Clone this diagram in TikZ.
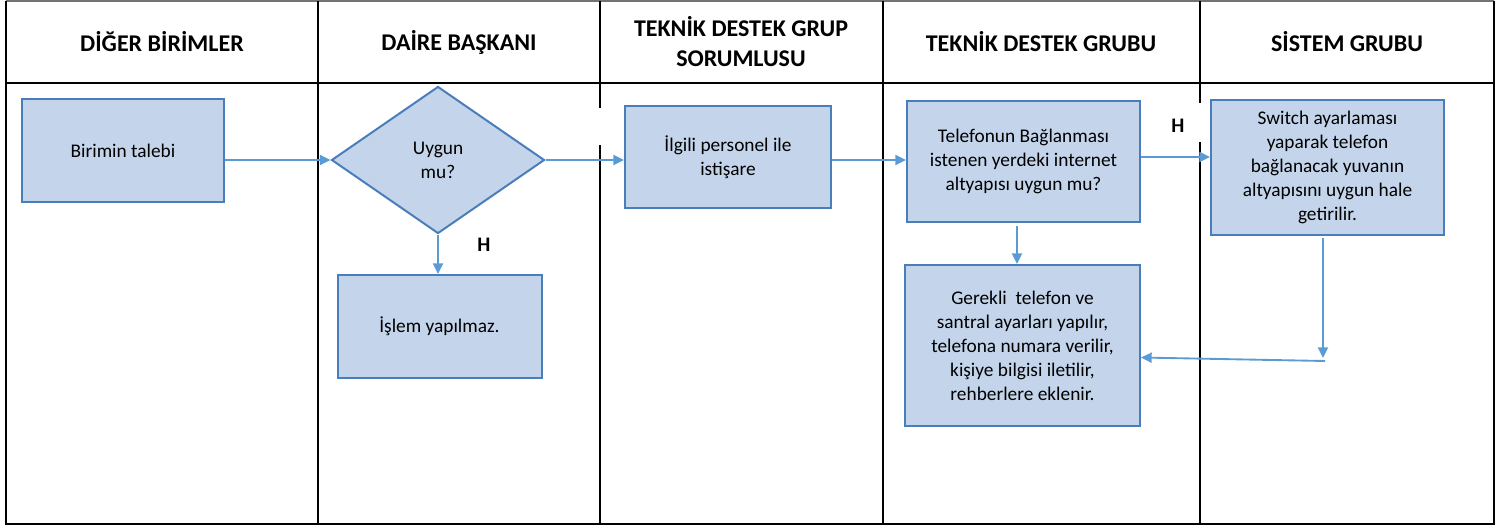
\documentclass[tikz,border=0pt]{standalone}
\usepackage{fontspec}
\setmainfont{Carlito}
\usetikzlibrary{arrows.meta,shapes.geometric}
\definecolor{boxfill}{HTML}{C4D5EB}
\definecolor{boxline}{HTML}{4A7EBB}
\definecolor{flow}{HTML}{5B9BD5}
\tikzset{
  lane/.style={draw=black, line width=1.5pt},
  head/.style={font=\fontsize{18}{22.5}\selectfont\bfseries, align=center},
  proc/.style={draw=boxline, fill=boxfill, line width=1.5pt, align=center, inner sep=0pt,
    font=\fontsize{14.5}{18}\selectfont},
  dec/.style={proc, diamond},
  arr/.style={draw=flow, line width=1.4pt, -{Triangle[length=8pt,width=7.5pt]}},
  lab/.style={font=\fontsize{15.5}{18}\selectfont\bfseries},
}

\begin{document}
\begin{tikzpicture}[x=0.75pt,y=-0.75pt]
\useasboundingbox (0,0) rectangle (1506,529);

% frame and lanes
\draw[draw=black!55, line width=1pt] (6,1) -- (1494,1);
\draw[lane] (6,1) -- (6,524) -- (1494,524) -- (1494,1);
\draw[lane, line width=2pt] (6,83) -- (1494,83);
\draw[lane] (318,1) -- (318,524);
\draw[lane] (600,1) -- (600,108);
\draw[lane] (600,145) -- (600,524);
\draw[lane] (883,1) -- (883,524);
\draw[lane] (1200,1) -- (1200,103);
\draw[lane] (1200,142) -- (1200,524);

% headers
\node[head] (h1) at (162,42) {DİĞER BİRİMLER};
\node[head] (h2) at (459,42) {DAİRE BAŞKANI};
\node[head] (h3) at (741,42) {TEKNİK DESTEK GRUP\\SORUMLUSU};
\node[head] (h4) at (1041,42) {TEKNİK DESTEK GRUBU};
\node[head] (h5) at (1347,42) {SİSTEM GRUBU};

% steps
\node[proc, minimum width=151.5pt, minimum height=77.25pt] (birim) at (123,150.5) {Birimin talebi};
\node[dec, minimum width=159.75pt, minimum height=110.25pt] (uygun) at (438,160) {Uygun\\mu?};
\node[proc, minimum width=153pt, minimum height=77.25pt] (islem) at (439.5,326.5) {İşlem yapılmaz.};
\node[proc, minimum width=154.5pt, minimum height=76.5pt] (istisare) at (728,157) {İlgili personel ile\\istişare};
\node[proc, minimum width=174.75pt, minimum height=90.75pt] (altyapi) at (1023.5,161.5)
  {Telefonun Bağlanması\\istenen yerdeki internet\\altyapısı uygun mu?};
\node[proc, minimum width=174.75pt, minimum height=101.25pt] (switchbox) at (1327.5,167)
  {Switch ayarlaması\\yaparak telefon\\bağlanacak yuvanın\\altyapısını uygun hale\\getirilir.};
\node[proc, minimum width=176.25pt, minimum height=120.75pt] (ayar) at (1022.5,345.5)
  {Gerekli\ \ telefon ve\\santral ayarları yapılır,\\telefona numara verilir,\\kişiye bilgisi iletilir,\\rehberlere eklenir.};

% labels
\node[lab] (h1lab) at (484,245) {H};
\node[lab] (h2lab) at (1178,126) {H};

% flow
\coordinate (dn) at (1017,0);
\coordinate (sw) at (1323,358);
\coordinate (sw2) at (1325,361);
\coordinate (r1) at (0,160);
\coordinate (r2) at (0,157);
\draw[arr] (birim.east |- r1) -- (uygun.west);
\draw[arr] (uygun.east) -- (istisare.west |- r1);
\draw[arr] (uygun.south) -- (uygun.south |- islem.north);
\draw[arr] (istisare.east |- r1) -- (altyapi.west |- r1);
\draw[arr] (altyapi.east |- r2) -- (switchbox.west |- r2);
\draw[arr] ([yshift=-2pt]altyapi.south -| dn) -- (ayar.north -| dn);
\draw[arr] ([yshift=-2pt]switchbox.south -| sw) -- (sw);
\draw[arr] (sw2) -- ([yshift=-9pt]ayar.east);
\end{tikzpicture}
\end{document}
